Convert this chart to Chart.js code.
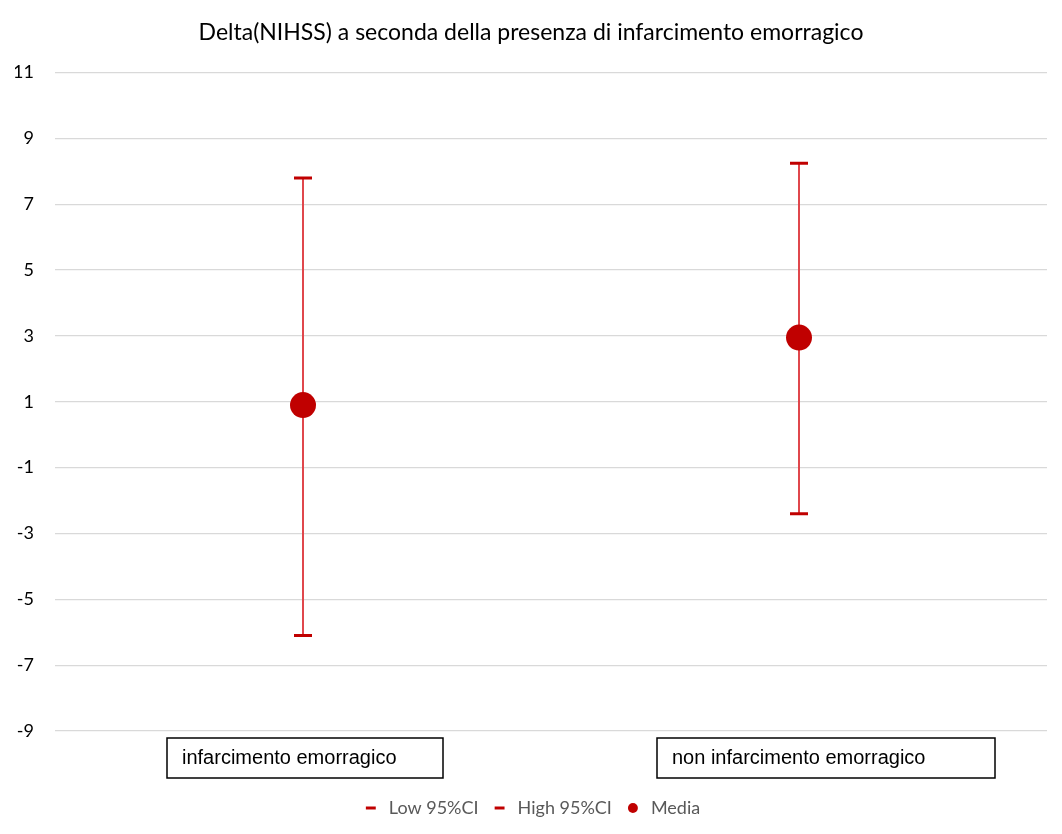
<!DOCTYPE html>
<html>
<head>
<meta charset="utf-8">
<script src="https://cdn.jsdelivr.net/npm/chart.js@4.4.0/dist/chart.umd.min.js"></script>
<style>
  body { margin: 0; background: #fff; }
  #wrap { width: 1062px; height: 834px; }
</style>
</head>
<body>
<div id="wrap"><canvas id="ci-chart"></canvas></div>
<script>
var categories = ['infarcimento emorragico', 'non infarcimento emorragico'];
var lowCI = [-6.1, -2.4];
var highCI = [7.8, 8.25];
var media = [0.9, 2.95];
var yTicks = [-9, -7, -5, -3, -1, 1, 3, 5, 7, 9, 11];

var RED = '#c00000';

// vertical whisker from low to high, drawn behind the markers
var whiskers = {
    id: 'whiskers',
    beforeDatasetsDraw: function (chart) {
        var ctx = chart.ctx;
        var x = chart.scales.x, y = chart.scales.y;
        ctx.save();
        ctx.strokeStyle = '#e0474c';
        ctx.lineWidth = 2;
        for (var i = 0; i < categories.length; i++) {
            var px = x.getPixelForValue(i);
            ctx.beginPath();
            ctx.moveTo(px, y.getPixelForValue(lowCI[i]));
            ctx.lineTo(px, y.getPixelForValue(highCI[i]));
            ctx.stroke();
        }
        ctx.restore();
    }
};

// category labels in framed boxes (as in the original spreadsheet)
var boxedLabels = {
    id: 'boxedLabels',
    afterDraw: function (chart) {
        var ctx = chart.ctx;
        var x = chart.scales.x;
        var boxes = [{ left: -136, right: 140 }, { left: -142, right: 196 }];
        var top = chart.chartArea.bottom + 7;
        ctx.save();
        ctx.font = '20px "Liberation Sans", Arial, sans-serif';
        ctx.textBaseline = 'middle';
        ctx.textAlign = 'left';
        for (var i = 0; i < categories.length; i++) {
            var px = x.getPixelForValue(i);
            var b = boxes[i];
            ctx.strokeStyle = '#000';
            ctx.lineWidth = 1.5;
            ctx.strokeRect(px + b.left, top, b.right - b.left, 40);
            ctx.fillStyle = '#000';
            ctx.fillText(categories[i], px + b.left + 15, top + 20);
        }
        ctx.restore();
    }
};

var capStyle = {
    showLine: false,
    pointStyle: 'line',
    pointRadius: 9,
    pointHoverRadius: 9,
    borderWidth: 3,
    borderColor: RED,
    backgroundColor: RED
};

new Chart(document.getElementById('ci-chart'), {
    type: 'line',
    data: {
        labels: categories,
        datasets: [
            Object.assign({ label: 'Low 95%CI', data: lowCI }, capStyle),
            Object.assign({ label: 'High 95%CI', data: highCI }, capStyle),
            {
                label: 'Media',
                data: media,
                showLine: false,
                pointStyle: 'circle',
                pointRadius: 13,
                pointHoverRadius: 13,
                borderWidth: 0,
                borderColor: RED,
                backgroundColor: RED
            }
        ]
    },
    options: {
        responsive: true,
        maintainAspectRatio: false,
        animation: false,
        layout: { padding: { left: 15, right: 15, top: 0, bottom: 7 } },
        plugins: {
            title: {
                display: true,
                text: 'Delta(NIHSS) a seconda della presenza di infarcimento emorragico',
                color: '#000',
                font: { family: 'Lato', size: 23, weight: 'normal' },
                padding: { top: 19, bottom: 26 }
            },
            legend: {
                position: 'bottom',
                labels: {
                    usePointStyle: true,
                    boxHeight: 7,
                    padding: 12,
                    color: '#595959',
                    font: { family: 'Lato', size: 18 }
                }
            },
            tooltip: { enabled: false }
        },
        scales: {
            x: {
                offset: true,
                grid: { display: false },
                border: { display: false },
                ticks: { display: false },
                afterFit: function (scale) { scale.height = 56; }
            },
            y: {
                min: -9,
                max: 11,
                afterBuildTicks: function (scale) {
                    scale.ticks = yTicks.map(function (v) { return { value: v }; });
                },
                grid: { color: '#d9d9d9', lineWidth: 1.3, drawTicks: false },
                border: { display: false },
                ticks: {
                    color: '#000',
                    padding: 21,
                    font: { family: 'Lato', size: 18 }
                },
                afterFit: function (scale) { scale.width = 40; }
            }
        }
    },
    plugins: [whiskers, boxedLabels]
});
</script>
</body>
</html>
